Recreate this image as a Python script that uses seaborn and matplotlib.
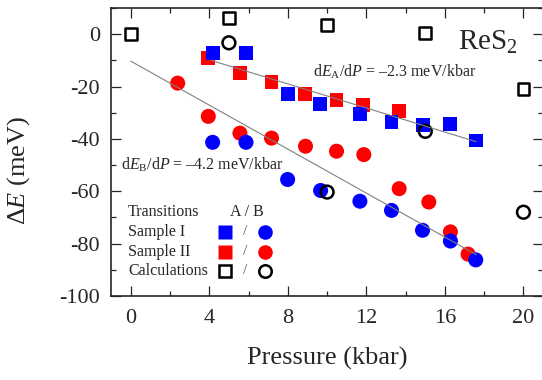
import numpy as np
import matplotlib
matplotlib.use("Agg")
import matplotlib.pyplot as plt
import seaborn as sns
from matplotlib.ticker import MultipleLocator

# 시료 I (파랑) - 전이 A / B
s1_a_p = [4.17, 5.87, 7.99, 9.63, 11.67, 13.28, 14.89, 16.25, 17.57]
s1_a_e = [-7.3, -7.3, -22.9, -26.6, -30.5, -33.7, -34.6, -34.3, -40.6]
s1_b_p = [4.17, 5.87, 7.99, 9.67, 11.67, 13.28, 14.86, 16.28, 17.57]
s1_b_e = [-41.3, -41.3, -55.5, -59.7, -63.8, -67.3, -74.9, -79.0, -86.2]

# 시료 II (빨강)
s2_a_p = [3.95, 5.56, 7.17, 8.87, 10.48, 11.84, 13.67]
s2_a_e = [-9.2, -14.7, -18.1, -22.9, -25.1, -27.0, -29.5]
s2_b_p = [2.39, 3.95, 5.56, 7.17, 8.90, 10.48, 11.87, 13.67, 15.18, 16.28, 17.18]
s2_b_e = [-18.7, -31.4, -37.8, -39.7, -42.8, -44.7, -46.0, -59.0, -64.1, -75.5, -84.0]

# 계산값
calc_a_p = [0, 5, 10, 15, 20]
calc_a_e = [0, 6.2, 3.4, 0.3, -21.0]
calc_b_p = [5, 10, 15, 20]
calc_b_e = [-3.3, -60.3, -37.1, -68.0]

# 선형 피팅 (절편, 기울기, 범위)
fit_a = (-0.6, -2.3, 4.1, 17.6)
fit_b = (-10.3, -4.2, 0.0, 17.6)

sns.set_style("ticks")
plt.rcParams['font.family'] = ['Liberation Serif', 'DejaVu Serif']
plt.rcParams['mathtext.fontset'] = 'custom'
plt.rcParams['mathtext.rm'] = 'Liberation Serif'
plt.rcParams['mathtext.it'] = 'Liberation Serif:italic'
plt.rcParams['axes.unicode_minus'] = False

fig = plt.figure(figsize=(5.42, 3.80), dpi=100)
ax = fig.add_axes([0.205, 0.221, 0.797, 0.758])

RED = '#ff0000'
BLUE = '#0000ff'

sns.scatterplot(x=s2_a_p, y=s2_a_e, marker='s', s=100, color=RED, edgecolor='none', ax=ax, zorder=3)
sns.scatterplot(x=s2_b_p, y=s2_b_e, marker='o', s=117, color=RED, edgecolor='none', ax=ax, zorder=3)
sns.scatterplot(x=s1_a_p, y=s1_a_e, marker='s', s=100, color=BLUE, edgecolor='none', ax=ax, zorder=4)
sns.scatterplot(x=s1_b_p, y=s1_b_e, marker='o', s=117, color=BLUE, edgecolor='none', ax=ax, zorder=4)
sns.scatterplot(x=calc_a_p, y=calc_a_e, marker='s', s=72, color='black', facecolor='none',
                edgecolor='black', linewidth=1.8, ax=ax, zorder=5)
sns.scatterplot(x=calc_b_p, y=calc_b_e, marker='o', s=85, color='black', facecolor='none',
                edgecolor='black', linewidth=1.8, ax=ax, zorder=5)

for b0, k, p0, p1 in (fit_a, fit_b):
    xs = np.array([p0, p1])
    sns.lineplot(x=xs, y=b0 + k * xs, color='#808080', linewidth=0.8, ax=ax, zorder=6)

ax.set_xlim(-1, 21)
ax.set_ylim(-100, 10)
ax.xaxis.set_major_locator(MultipleLocator(4))
ax.xaxis.set_minor_locator(MultipleLocator(2))
ax.yaxis.set_major_locator(MultipleLocator(20))
ax.yaxis.set_minor_locator(MultipleLocator(10))
ax.tick_params(which='both', direction='in', top=True, right=True, width=0.9, labelsize=16)
ax.tick_params(which='major', length=7)
ax.tick_params(which='minor', length=3.5)
ax.tick_params(axis='x', pad=9)
ax.tick_params(axis='y', pad=8)
for sp in ax.spines.values():
    sp.set_linewidth(1.2)

ax.set_xlabel('Pressure (kbar)', fontsize=19, labelpad=14)
ax.set_ylabel(r'$\Delta E$ (meV)', fontsize=19)
ax.yaxis.set_label_coords(-0.183, 0.4375)

ax.text(16.65, -6.1, r'ReS$_2$', fontsize=21)
ax.text(9.28, -16.3, r'd$E_{\rm A}$/d$P$ = –2.3 meV/kbar', fontsize=11.5)
ax.text(-0.51, -51.7, r'd$E_{\rm B}$/d$P$ = –4.2 meV/kbar', fontsize=11.5)

# 범례 표
rows = [('Transitions', None), ('Sample I', BLUE), ('Sample II', RED), ('Calculations', None)]
ys = [0.293, 0.223, 0.154, 0.088]
for (lab, col), yy in zip(rows, ys):
    ax.text(0.039, yy, lab, transform=ax.transAxes, fontsize=11.5, va='center')
ax.text(0.315, ys[0], 'A / B', transform=ax.transAxes, fontsize=11.5, va='center', ha='center')
for col, yy in ((BLUE, ys[1]), (RED, ys[2])):
    ax.plot(0.264, yy, 's', ms=9.5, color=col, mec='none', transform=ax.transAxes)
    ax.plot(0.356, yy, 'o', ms=10.5, color=col, mec='none', transform=ax.transAxes)
    ax.text(0.310, yy, '/', transform=ax.transAxes, fontsize=11, va='center', ha='center', color='#555555')
ax.plot(0.264, ys[3], 's', ms=8, mfc='none', mec='black', mew=1.8, transform=ax.transAxes)
ax.plot(0.356, ys[3], 'o', ms=9, mfc='none', mec='black', mew=1.8, transform=ax.transAxes)
ax.text(0.310, ys[3], '/', transform=ax.transAxes, fontsize=11, va='center', ha='center', color='#555555')

fig.savefig('out.png', dpi=100)
